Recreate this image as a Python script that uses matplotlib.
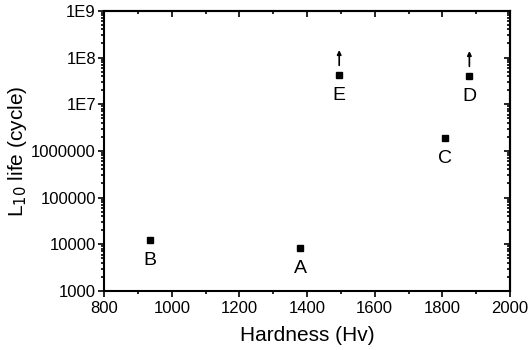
import matplotlib
matplotlib.use("Agg")
import matplotlib.pyplot as plt
from matplotlib.text import OffsetFrom
from matplotlib.ticker import FixedLocator, FixedFormatter, LogLocator, NullFormatter, MultipleLocator

plt.rcParams['font.family'] = ['Liberation Sans', 'DejaVu Sans']

labels = ["B", "A", "E", "C", "D"]
hardness = [935, 1380, 1495, 1808, 1880]
life = [12300, 8400, 4.2e7, 1.9e6, 4.0e7]
runout = [False, False, True, False, True]

ytick_vals = [1e3, 1e4, 1e5, 1e6, 1e7, 1e8, 1e9]
ytick_labels = ["1000", "10000", "100000", "1000000", "1E7", "1E8", "1E9"]
xtick_vals = [800, 1000, 1200, 1400, 1600, 1800, 2000]

fig = plt.figure(figsize=(5.29, 3.5), dpi=100)
ax = fig.add_axes([0.197, 0.169, 0.767, 0.8])

ax.plot(hardness, life, 's', color='black', markersize=5, linestyle='none')
for x, y, lab, ro in zip(hardness, life, labels, runout):
    ax.annotate(lab, (x, y), xytext=(0, -15), textcoords='offset points',
                ha='center', va='center', fontsize=14)
    if ro:
        base = ax.annotate('', (x, y))
        ax.annotate('', xy=(0, 18), xycoords=OffsetFrom(base, (0, 0), unit='points'),
                    xytext=(0, 7), textcoords=OffsetFrom(base, (0, 0), unit='points'),
                    arrowprops=dict(arrowstyle='-|>', color='black', lw=1.2,
                                    mutation_scale=6, shrinkA=0, shrinkB=0))

ax.set_yscale('log')
ax.set_xlim(800, 2000)
ax.set_ylim(1e3, 1e9)
ax.yaxis.set_major_locator(FixedLocator(ytick_vals))
ax.yaxis.set_major_formatter(FixedFormatter(ytick_labels))
ax.yaxis.set_minor_locator(LogLocator(base=10, subs=range(2, 10), numticks=20))
ax.yaxis.set_minor_formatter(NullFormatter())
ax.xaxis.set_major_locator(FixedLocator(xtick_vals))
ax.xaxis.set_minor_locator(MultipleLocator(100))

ax.tick_params(which='both', direction='out', labelsize=12, width=1.2)
ax.tick_params(which='major', length=4)
ax.tick_params(which='minor', length=2)
ax.tick_params(axis='y', pad=2)
for s in ax.spines.values():
    s.set_linewidth(1.5)

secx = ax.secondary_xaxis('top')
secx.xaxis.set_major_locator(FixedLocator(xtick_vals))
secx.xaxis.set_minor_locator(MultipleLocator(100))
secx.tick_params(which='both', direction='in', labeltop=False, width=1.2)
secx.tick_params(which='major', length=4)
secx.tick_params(which='minor', length=2)
secx.spines['top'].set_linewidth(1.5)

secy = ax.secondary_yaxis('right')
secy.yaxis.set_major_locator(FixedLocator(ytick_vals))
secy.yaxis.set_minor_locator(LogLocator(base=10, subs=range(2, 10), numticks=20))
secy.yaxis.set_minor_formatter(NullFormatter())
secy.tick_params(which='both', direction='in', labelright=False, width=1.2)
secy.tick_params(which='major', length=4)
secy.tick_params(which='minor', length=2)
secy.spines['right'].set_linewidth(1.5)

ax.set_xlabel('Hardness (Hv)', fontsize=15, labelpad=7)
ax.set_ylabel('L$_{10}$ life (cycle)', fontsize=15)
ax.yaxis.set_label_coords(-0.185, 0.5)

fig.savefig('out.png', dpi=100)
